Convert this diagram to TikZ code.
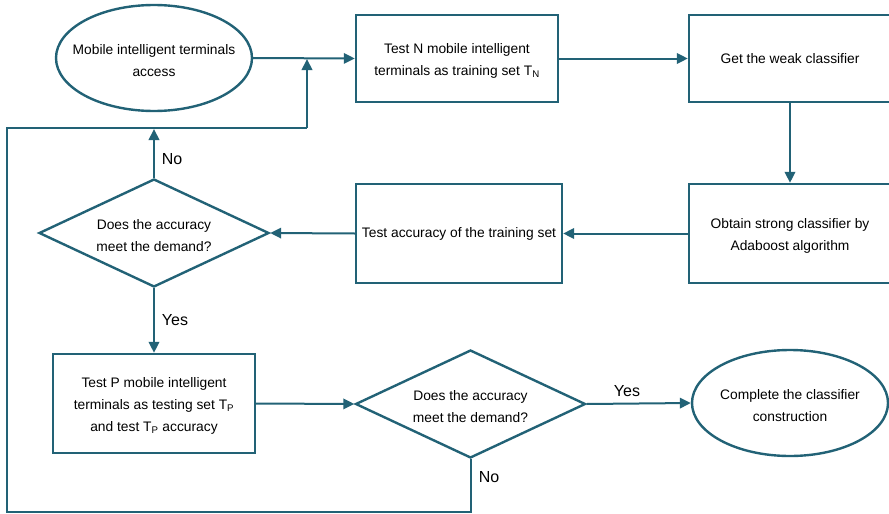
\documentclass[tikz,border=0pt]{standalone}
\usepackage{fontspec}
\setmainfont{Liberation Sans}
\usetikzlibrary{shapes.geometric,arrows.meta}
\definecolor{flow}{RGB}{34,98,118}
\tikzset{
  shapeline/.style={draw=flow, line width=2.4pt},
  procbox/.style={shapeline, rectangle, inner sep=0pt, minimum width=202pt, minimum height=99pt},
  term/.style={shapeline, ellipse, inner sep=0pt, minimum width=196pt, minimum height=106pt},
  decide/.style={shapeline, diamond, inner sep=0pt, minimum width=230pt, minimum height=108pt},
  txt/.style={align=center, font=\fontsize{13.8pt}{22pt}\selectfont, inner sep=0pt},
  txtm/.style={txt, yshift=-2.5pt},
  lbl/.style={font=\fontsize{16pt}{18pt}\selectfont, inner sep=0pt},
  arr/.style={draw=flow, line width=2pt, -{Triangle[length=11pt,width=10.5pt]}},
  link/.style={draw=flow, line width=2pt}
}
\begin{document}
\begin{tikzpicture}[x=1pt,y=-1pt]
\useasboundingbox (0,0) rectangle (889,514);

% start / end terminals
\node[term] (e1) at (154,58) {};
\node[txtm] at (e1) {Mobile intelligent terminals\\access};
\node[term] (e2) at (790,403) {};
\node[txtm] at (e2) {Complete the classifier\\construction};

% process boxes
\node[procbox, minimum height=87pt] (b1) at (457,58.5) {};
\node[txtm] at (b1) {Test N mobile intelligent\\terminals as training set T\textsubscript{N}};
\node[procbox, minimum height=87pt] (b2) at (790,58.5) {};
\node[txt] at (b2) {Get the weak classifier};
\node[procbox] (b3) at (790,233.5) {};
\node[txtm] at (b3) {Obtain strong classifier by\\Adaboost algorithm};
\node[procbox, minimum width=206pt] (b4) at (459,233.5) {};
\node[txt] at (b4) {Test accuracy of the training set};
\node[procbox] (b5) at (154,403.5) {};
\node[txtm] at (b5) {Test P mobile intelligent\\terminals as testing set T\textsubscript{P}\\and test T\textsubscript{P} accuracy};

% decisions
\node[decide] (d1) at (154,233) {};
\node[txtm] at (d1) {Does the accuracy\\meet the demand?};
\node[decide] (d2) at (470.5,404) {};
\node[txtm] at (d2) {Does the accuracy\\meet the demand?};

% feedback loop corners
\coordinate (loopTL) at (7,128);
\coordinate (loopBL) at (7,512);
\coordinate (loopTR) at (307,128);

% main flow
\draw[arr] (e1.east) -- (b1.west);
\draw[arr] (b1.east) -- (b2.west);
\draw[arr] (b2.south) -- (b3.north);
\draw[arr] (b3.west) -- (b4.east);
\draw[arr] (b4.west) -- (d1.east);
\draw[arr] (d1.south) -- (b5.north);
\draw[arr] (b5.east) -- (d2.west);
\draw[arr] (d2.east) -- (e2.west);

% retry paths
\draw[arr, shorten >=1pt] (d1.north) -- (d1.north |- loopTL);
\draw[link] (d2.south) -- (d2.south |- loopBL) -- (loopBL) -- (loopTL) -- (loopTR);
\draw[arr, shorten >=1pt] (loopTR) -- (loopTR |- e1.east);

% branch labels
\node[lbl] at (172,159) {No};
\node[lbl] at (175,320) {Yes};
\node[lbl] at (627,391) {Yes};
\node[lbl] at (489,477) {No};
\end{tikzpicture}
\end{document}
